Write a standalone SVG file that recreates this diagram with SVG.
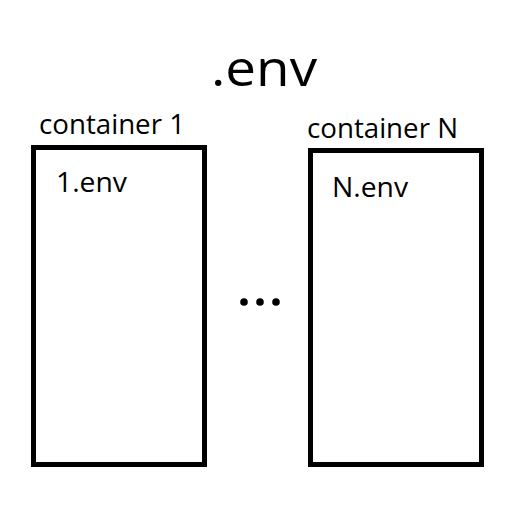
<svg xmlns="http://www.w3.org/2000/svg" width="512" height="512" viewBox="0 0 512 512">
<style>
text{font-family:"Open Sans","Liberation Sans",sans-serif;fill:#000}
.box{fill:#fff;stroke:#000;stroke-width:5}
.lbl{font-size:27.5px}
.title{font-size:49px}
</style>
<rect width="512" height="512" fill="#fff"/>
<text class="title" x="211" y="86" textLength="106" lengthAdjust="spacingAndGlyphs">.env</text>
<g id="container1">
<rect class="box" x="33.5" y="147.5" width="171" height="317"/>
<text class="lbl" x="39" y="134" textLength="146" lengthAdjust="spacingAndGlyphs">container 1</text>
<text class="lbl" x="56" y="192" textLength="71" lengthAdjust="spacingAndGlyphs">1.env</text>
</g>
<g id="containerN">
<rect class="box" x="310.5" y="150.5" width="171" height="314"/>
<text class="lbl" x="307" y="138" textLength="151" lengthAdjust="spacingAndGlyphs">container N</text>
<text class="lbl" x="332" y="197" textLength="76" lengthAdjust="spacingAndGlyphs">N.env</text>
</g>
<g id="ellipsis">
<circle cx="244" cy="302" r="3.8"/>
<circle cx="260" cy="302" r="3.8"/>
<circle cx="276" cy="302" r="3.8"/>
</g>
<g id="connectors"/>
</svg>
